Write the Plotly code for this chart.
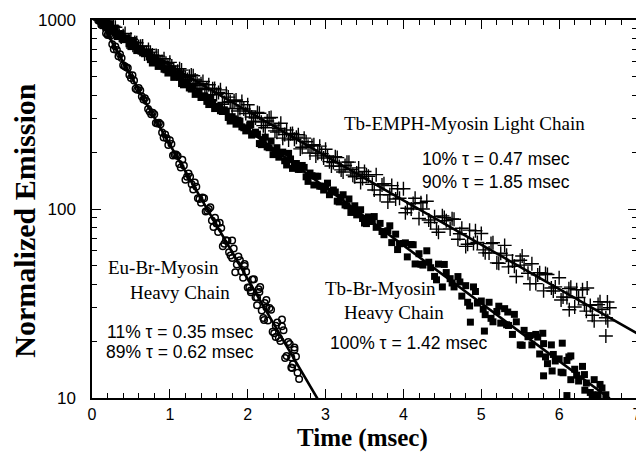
import plotly.graph_objects as go

# ---------------- data ----------------
# Eu-Br-Myosin Heavy Chain (open circles)
eu_t = [0.08, 0.10, 0.14, 0.18, 0.22, 0.26, 0.30, 0.34, 0.38, 0.42, 0.46, 0.50, 0.54, 0.58,
        0.62, 0.66, 0.70, 0.74, 0.78, 0.82, 0.86, 0.90, 0.94, 0.98, 1.02, 1.06, 1.10, 1.14,
        1.18, 1.22, 1.26, 1.30, 1.34, 1.38, 1.42, 1.46, 1.50, 1.54, 1.58, 1.62, 1.66, 1.70,
        1.74, 1.78, 1.82, 1.86, 1.90, 1.94, 1.98, 2.02, 2.06, 2.10, 2.14, 2.18, 2.22, 2.26,
        2.30, 2.34, 2.38, 2.42, 2.46, 2.50, 2.54, 2.58, 2.62, 2.66,
        1.60, 1.80, 1.96, 2.04, 2.12, 2.15, 2.21, 2.24, 2.36, 2.44, 2.56, 2.57, 2.60]
eu_y = [995, 988, 955, 851, 836, 745, 724, 643, 630, 570, 557, 493, 479, 428,
        424, 380, 373, 328, 323, 285, 286, 254, 248, 218, 221, 194, 191, 166,
        170, 148, 148, 127, 131, 113, 115, 97, 100, 87, 90, 75.5, 79.4, 65.5,
        68, 56.8, 61.8, 50.9, 53.6, 43.3, 46.6, 38.4, 42.3, 34.1, 37.6, 29.0, 31.8, 25.7,
        29.3, 22.0, 25.1, 20.0, 22.8, 16.7, 19.3, 15.1, 16.6, 12.6,
        84, 55, 50, 37, 31, 36.4, 25.9, 33, 21, 26, 14.5, 14.4, 18.5]
eu_b_t = [0.12, 0.16, 0.20, 0.24, 0.28, 0.32, 0.36, 0.40, 0.44, 0.48, 0.52, 0.56, 0.60, 0.64,
          0.68, 0.72, 0.76, 0.80, 0.84, 0.88, 0.92, 0.96, 1.00, 1.04, 1.08, 1.12, 1.16, 1.20,
          1.24, 1.28, 1.32, 1.36, 1.40, 1.44, 1.48, 1.52, 1.56, 1.60, 1.64, 1.68, 1.72, 1.76,
          1.80, 1.84, 1.88, 1.92, 1.96, 2.00, 2.04, 2.08, 2.12, 2.16, 2.20, 2.24, 2.28, 2.32,
          2.36, 2.40, 2.44, 2.48, 2.52, 2.56, 2.60, 2.64]
eu_b_y = [940, 937, 834, 826, 701, 693, 659, 577, 562, 512, 510, 433, 437, 394,
          386, 338, 317, 317, 283, 281, 239, 237, 231, 192, 194, 173, 182, 143,
          154, 135, 138, 114, 108, 114, 97.8, 102, 80.4, 83.8, 84.7, 63.6, 68.4, 59.0,
          68.2, 46.3, 56.1, 46.7, 51.2, 38.4, 36.3, 42.5, 34.0, 38.7, 26.5, 30.1, 29.9, 22.4,
          24.1, 20.8, 24.0, 16.3, 19.8, 16.4, 18.0, 13.6]

# Tb-Br-Myosin Heavy Chain (filled squares)
tb_t = [0.10, 0.15, 0.20, 0.25, 0.30, 0.35, 0.40, 0.45, 0.50, 0.55, 0.60, 0.65, 0.70, 0.75,
        0.80, 0.85, 0.90, 0.95, 1.00, 1.05, 1.10, 1.15, 1.20, 1.25, 1.30, 1.35, 1.40, 1.45,
        1.50, 1.55, 1.60, 1.65, 1.70, 1.75, 1.80, 1.85, 1.90, 1.95, 2.00, 2.05, 2.10, 2.15,
        2.20, 2.25, 2.30, 2.35, 2.40, 2.45, 2.50, 2.55, 2.60, 2.65, 2.70, 2.75, 2.80, 2.85,
        2.90, 2.95, 3.00, 3.05, 3.10, 3.15, 3.20, 3.25, 3.30, 3.35, 3.40, 3.45, 3.50, 3.55,
        3.60, 3.65, 3.70, 3.75, 3.80, 3.85, 3.90, 3.95, 4.00, 4.05, 4.10, 4.15, 4.20, 4.25,
        4.30, 4.35, 4.40, 4.45, 4.50, 4.55, 4.60, 4.65, 4.70, 4.75, 4.80, 4.85, 4.90, 4.95,
        5.00, 5.05, 5.10, 5.15, 5.20, 5.25, 5.30, 5.35, 5.40, 5.45, 5.50, 5.55, 5.60, 5.65,
        5.70, 5.75, 5.80, 5.85, 5.90, 5.95, 6.00, 6.05, 6.10, 6.15, 6.20, 6.25, 6.30, 6.35,
        6.40, 6.45, 6.50, 6.55, 6.60]
tb_y = [1000, 933, 942, 883, 906, 834, 787, 802, 723, 740,
        706, 670, 678, 617, 624, 568, 590, 545, 535, 497,
        506, 461, 467, 437, 448, 412, 389, 396, 357, 366,
        349, 331, 335, 305, 308, 281, 292, 269, 264, 246,
        255, 222, 233, 213, 229, 203, 188, 200, 171, 184,
        174, 162, 170, 148, 155, 134, 149, 132, 131, 119,
        126, 110, 115, 105, 113, 100, 93.1, 99.1, 84.3, 90.8,
        85.9, 80.0, 83.9, 73.1, 76.7, 66.4, 73.6, 65.5, 65.7, 55.8,
        64.9, 51.2, 58.0, 50.5, 60.1, 48.9, 44.0, 51.1, 38.7, 46.1,
        42.8, 38.7, 43.9, 34.6, 39.3, 30.7, 38.7, 31.8, 32.6, 27.6,
        32.1, 25.3, 28.7, 24.9, 29.7, 24.2, 21.7, 25.3, 19.1, 22.8,
        21.1, 19.1, 21.7, 17.1, 19.4, 15.2, 19.1, 15.7, 16.1, 13.6,
        15.8, 12.5, 14.2, 12.3, 14.7, 12.0, 10.7, 12.5, 10.4, 11.3, 10.4]
tb_b_t = [0.125, 0.175, 0.225, 0.275, 0.325, 0.375, 0.425, 0.475, 0.525, 0.575, 0.625, 0.675,
          0.725, 0.775, 0.825, 0.875, 0.925, 0.975, 1.025, 1.075, 1.125, 1.175, 1.225, 1.275,
          1.325, 1.375, 1.425, 1.475, 1.525, 1.575, 1.625, 1.675, 1.725, 1.775, 1.825, 1.875,
          1.925, 1.975, 2.025, 2.075, 2.125, 2.175, 2.225, 2.275, 2.325, 2.375, 2.425, 2.475,
          2.525, 2.575, 2.625, 2.675, 2.725, 2.775, 2.825, 2.875, 2.925, 2.975, 3.025, 3.075,
          3.125, 3.175, 3.225, 3.275, 3.325, 3.375, 3.425, 3.475,
          3.525, 3.625, 3.725, 3.825, 3.925, 4.025, 4.125, 4.225, 4.325, 4.425, 4.525,
          4.625, 4.725, 4.825, 4.925, 5.025, 5.125, 5.225, 5.325, 5.425, 5.525, 5.625,
          5.725, 5.825, 5.925, 6.025, 6.125, 6.225, 6.325, 6.425, 6.525,
          4.86, 5.04, 5.34, 5.79, 5.80, 5.91, 6.04, 6.10, 6.15, 6.33]
tb_b_y = [985, 918, 955, 871, 817, 847, 802, 748, 780, 689, 702, 663,
          665, 592, 607, 597, 549, 524, 545, 505, 497, 454, 472, 431,
          404, 419, 396, 371, 385, 340, 348, 328, 329, 292, 300, 295,
          272, 259, 277, 250, 249, 219, 240, 211, 194, 211, 197, 180,
          197, 164, 174, 162, 166, 140, 150, 149, 132, 126, 137, 124,
          123, 109, 119, 104, 95.9, 104, 97.5, 89.1,
          83.7, 91.2, 76.0, 81.5, 61.0, 66.2, 64.7, 51.0, 52.3, 42.2, 50.9,
          40.6, 41.1, 32.1, 36.6, 29.5, 26.4, 30.6, 24.4, 27.7, 19.0, 21.4,
          21.0, 16.5, 17.0, 13.7, 16.5, 13.2, 13.3, 10.4, 11.8,
          25.2, 22.6, 28.5, 22.0, 13.1, 13.9, 19.5, 10.3, 16.7, 11.0]

# Tb-EMPH-Myosin Light Chain (plus signs)
em_t = [0.10, 0.15, 0.20, 0.25, 0.30, 0.35, 0.40, 0.45, 0.50, 0.55, 0.60, 0.65, 0.70, 0.75,
        0.80, 0.85, 0.90, 0.95, 1.00, 1.05, 1.10, 1.15, 1.20, 1.25, 1.30, 1.35, 1.40, 1.45,
        1.50, 1.55, 1.60, 1.65, 1.70, 1.75, 1.80, 1.85, 1.90, 1.95, 2.00, 2.05, 2.10, 2.15,
        2.20, 2.25, 2.30, 2.35, 2.40, 2.45, 2.50, 2.55, 2.60, 2.65, 2.70, 2.75, 2.80, 2.85,
        2.90, 2.95, 3.00, 3.05, 3.10, 3.15, 3.20, 3.25, 3.30, 3.35, 3.40, 3.45, 3.50, 3.55,
        3.60, 3.65, 3.70, 3.75, 3.80, 3.85, 3.90, 3.95, 4.00, 4.05, 4.10, 4.15, 4.20, 4.25,
        4.30, 4.35, 4.40, 4.45, 4.50, 4.55, 4.60, 4.65, 4.70, 4.75, 4.80, 4.85, 4.90, 4.95,
        5.00, 5.05, 5.10, 5.15, 5.20, 5.25, 5.30, 5.35, 5.40, 5.45, 5.50, 5.55, 5.60, 5.65,
        5.70, 5.75, 5.80, 5.85, 5.90, 5.95, 6.00, 6.05, 6.10, 6.15, 6.20, 6.25, 6.30, 6.35,
        6.40, 6.45, 6.50, 6.55, 6.60, 6.65]
em_y = [1000, 995, 906, 914, 916, 830, 826, 764, 791, 760,
        723, 729, 665, 676, 622, 644, 601, 590, 597, 547,
        536, 543, 497, 504, 507, 460, 460, 428, 454, 433,
        404, 427, 366, 391, 340, 377, 340, 338, 356, 307,
        303, 321, 276, 292, 305, 259, 267, 237, 262, 250,
        234, 247, 212, 227, 198, 219, 197, 196, 207, 178,
        176, 187, 161, 170, 177, 151, 155, 138, 158, 149,
        135, 152, 119, 136, 109, 133, 113, 114, 128, 101,
        100, 114, 89.1, 100, 110, 84.9, 91.0, 75.3, 92.0, 86.7,
        78.4, 88.2, 69.2, 79.1, 63.4, 77.3, 65.7, 66.5, 74.2, 58.6,
        58.5, 66.3, 51.9, 58.3, 64.2, 49.4, 53.0, 43.9, 53.6, 50.5,
        45.7, 51.3, 40.3, 46.0, 36.9, 45.0, 38.2, 38.7, 43.3, 34.2,
        34.0, 38.6, 30.3, 34.0, 37.4, 28.8, 30.9, 25.6, 31.2, 29.4, 26.6, 30.0]
em_b_t = [0.125, 0.175, 0.225, 0.275, 0.325, 0.375, 0.425, 0.475, 0.525, 0.575, 0.625, 0.675,
          0.725, 0.775, 0.825, 0.875, 0.925, 0.975, 1.025, 1.075, 1.125, 1.175, 1.225, 1.275,
          1.325, 1.375, 1.425, 1.475, 1.525, 1.575, 1.625, 1.675, 1.725, 1.775, 1.825, 1.875,
          1.925, 1.975, 2.025, 2.075, 2.125, 2.175, 2.225, 2.275, 2.325, 2.375, 2.425, 2.475,
          2.525, 2.575, 2.625, 2.675, 2.725, 2.775, 2.825, 2.875, 2.925, 2.975, 3.025, 3.075,
          3.125, 3.175, 3.225, 3.275, 3.325, 3.375, 3.425, 3.475,
          3.525, 3.625, 3.725, 3.825, 3.925, 4.025, 4.125, 4.225, 4.325, 4.425, 4.525,
          4.625, 4.725, 4.825, 4.925, 5.025, 5.125, 5.225, 5.325, 5.425, 5.525, 5.625,
          5.725, 5.825, 5.925, 6.025, 6.125, 6.225, 6.325, 6.425, 6.525, 6.625,
          6.60, 6.36, 6.62, 6.13]
em_b_y = [992, 932, 883, 927, 867, 813, 848, 776, 736, 757, 726, 661,
          698, 653, 649, 596, 624, 569, 571, 527, 552, 510, 485, 512,
          481, 452, 473, 435, 402, 434, 414, 358, 408, 370, 374, 330,
          370, 320, 330, 291, 324, 288, 269, 303, 278, 255, 284, 248,
          232, 251, 240, 208, 237, 215, 217, 191, 215, 186, 191, 169,
          189, 168, 157, 177, 162, 148, 165, 145,
          152, 126, 134, 119, 128, 95.6, 107, 108, 87.5, 78.3, 90.1,
          88.7, 74.0, 65.1, 76.7, 60.8, 65.6, 51.6, 57.0, 49.8, 56.4, 40.2,
          44.8, 45.6, 36.8, 33.0, 37.9, 37.4, 31.1, 27.4, 32.3, 25.6,
          21.3, 38.2, 32.2, 29.3]

# fitted decay curves
eu_fit_t = [0.1, 0.3, 0.5, 0.7, 1.0, 1.5, 2.0, 2.5, 2.9]
eu_fit_y = [1000, 709, 504, 360, 219, 96.1, 42.5, 18.8, 9.86]
tb_fit_t = [0.1, 2.0, 4.0, 6.65]
tb_fit_y = [1000, 262, 64.1, 9.93]
em_fit_t = [0.1, 0.3, 0.5, 0.7, 1.0, 1.4, 2.0, 2.5, 3.0, 4.0, 5.0, 6.0, 7.0]
em_fit_y = [1000, 876, 773, 685, 574, 458, 329, 250, 191, 111, 64.7, 37.8, 22.0]

x_ticks = [0, 1, 2, 3, 4, 5, 6, 7]
y_ticks = [10, 100, 1000]
y_tick_text = ["10", "100", "1000"]
y_minor = [20, 30, 40, 50, 60, 70, 80, 90, 200, 300, 400, 500, 600, 700, 800, 900]

SERIF = "Liberation Serif, Times New Roman, serif"
SANS = "Liberation Sans, Arial, sans-serif"

fig = go.Figure()

fig.add_trace(go.Scatter(x=em_t + em_b_t, y=em_y + em_b_y, mode="markers",
                         marker=dict(symbol="cross-thin-open", size=10, color="black",
                                     line=dict(color="black", width=1.4)),
                         name="Tb-EMPH-Myosin Light Chain"))
fig.add_trace(go.Scatter(x=tb_t + tb_b_t, y=tb_y + tb_b_y, mode="markers",
                         marker=dict(symbol="square", size=7, color="black",
                                     line=dict(width=0)),
                         name="Tb-Br-Myosin Heavy Chain"))
fig.add_trace(go.Scatter(x=eu_t + eu_b_t, y=eu_y + eu_b_y, mode="markers",
                         marker=dict(symbol="circle-open", size=6.5, color="black",
                                     line=dict(color="black", width=1.5)),
                         name="Eu-Br-Myosin Heavy Chain"))
for ft, fy in [(em_fit_t, em_fit_y), (tb_fit_t, tb_fit_y), (eu_fit_t, eu_fit_y)]:
    fig.add_trace(go.Scatter(x=ft, y=fy, mode="lines",
                             line=dict(color="black", width=2.6), showlegend=False))

annots = [
    dict(text="Tb-EMPH-Myosin Light Chain", x=0.684, y=0.7275, font=dict(family=SERIF, size=19)),
    dict(text="10% τ = 0.47 msec", x=0.742, y=0.632, font=dict(family=SANS, size=17.5)),
    dict(text="90% τ = 1.85 msec", x=0.742, y=0.571, font=dict(family=SANS, size=17.5)),
    dict(text="Tb-Br-Myosin", x=0.529, y=0.291, font=dict(family=SERIF, size=19)),
    dict(text="Heavy Chain", x=0.555, y=0.225, font=dict(family=SERIF, size=19)),
    dict(text="100% τ = 1.42 msec", x=0.580, y=0.1455, font=dict(family=SANS, size=17.5)),
    dict(text="Eu-Br-Myosin", x=0.131, y=0.344, font=dict(family=SERIF, size=19)),
    dict(text="Heavy Chain", x=0.162, y=0.278, font=dict(family=SERIF, size=19)),
    dict(text="11% τ = 0.35 msec", x=0.162, y=0.1746, font=dict(family=SANS, size=17.5)),
    dict(text="89% τ = 0.62 msec", x=0.162, y=0.1217, font=dict(family=SANS, size=17.5)),
    # axis titles
    dict(text="<b>Normalized Emission</b>", x=-0.124, y=0.47, textangle=-90,
         font=dict(family=SERIF, size=30)),
    dict(text="<b>Time (msec)</b>", x=0.496, y=-0.105, font=dict(family=SERIF, size=25)),
]
for a in annots:
    a["font"]["color"] = "black"
    fig.add_annotation(xref="paper", yref="paper", showarrow=False,
                       xanchor="center", yanchor="middle", **a)

# The page body adds an 8 px offset, so the figure is 636 x 445 and margins are
# reduced by 8 px on the left/top to keep the plot area where the reference has it.
fig.update_layout(
    width=636, height=445,
    margin=dict(l=84, r=7, t=12, b=55),
    paper_bgcolor="white", plot_bgcolor="white",
    showlegend=False,
    xaxis=dict(range=[0, 7], tickvals=x_ticks, ticks="inside", ticklen=9, tickwidth=1,
               tickcolor="black", showline=True, linecolor="black", linewidth=1.5,
               mirror="ticks", showgrid=False, zeroline=False, automargin=False,
               ticklabelstandoff=1,
               tickfont=dict(family=SANS, size=16, color="black"),
               minor=dict(ticks="inside", ticklen=5, dtick=0.2, tickcolor="black",
                          tickwidth=1, showgrid=False)),
    yaxis=dict(type="log", range=[1, 3], tickvals=y_ticks, ticktext=y_tick_text,
               ticks="inside", ticklen=9, tickwidth=1, tickcolor="black",
               showline=True, linecolor="black", linewidth=1.5, mirror="ticks",
               showgrid=False, zeroline=False, ticklabelstandoff=11, automargin=False,
               tickfont=dict(family=SANS, size=17, color="black"),
               minor=dict(ticks="inside", ticklen=5, tickvals=y_minor, tickcolor="black",
                          tickwidth=1, showgrid=False)),
)

fig.write_html("out.html")
